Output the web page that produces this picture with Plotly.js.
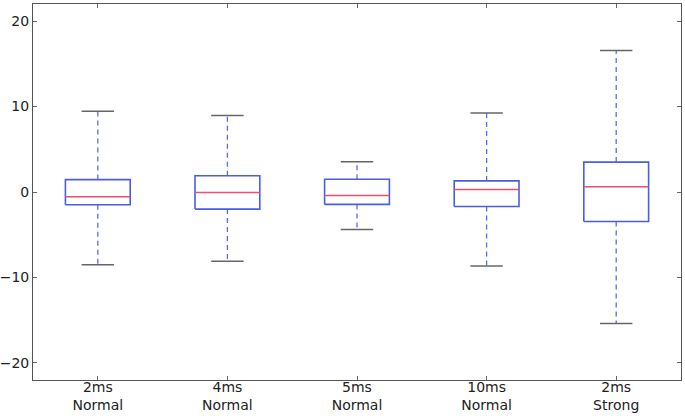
<!DOCTYPE html>
<html>
<head>
<meta charset="utf-8">
<script src="https://cdn.plot.ly/plotly-3.0.1.min.js"></script>
<style>
  html, body { margin: 0; padding: 0; background: #fff; }
  #chart { width: 685px; height: 416px; }
</style>
</head>
<body>
<div id="chart"></div>
<script>
document.addEventListener('DOMContentLoaded', function () {
    // box statistics
    var labels = ['2ms<br>Normal', '4ms<br>Normal', '5ms<br>Normal', '10ms<br>Normal', '2ms<br>Strong'];
    var upper  = [9.45, 8.95, 3.55, 9.25, 16.55];
    var q3     = [1.45, 1.9, 1.5, 1.3, 3.5];
    var median = [-0.55, -0.05, -0.4, 0.3, 0.6];
    var q1     = [-1.5, -2.0, -1.45, -1.7, -3.45];
    var lower  = [-8.5, -8.1, -4.4, -8.65, -15.4];
    var yTicks = [-20, -10, 0, 10, 20];

    var HALF_BOX = 0.25;
    var HALF_CAP = 0.125;

    var wx = [], wy = [], bx = [], by = [], mx = [], my = [], cx = [], cy = [];
    var pos = [];
    for (var i = 0; i < labels.length; i++) {
        var x = i + 1;
        pos.push(x);
        wx.push(x, x, null, x, x, null);
        wy.push(q3[i], upper[i], null, q1[i], lower[i], null);
        bx.push(x - HALF_BOX, x + HALF_BOX, x + HALF_BOX, x - HALF_BOX, x - HALF_BOX, null);
        by.push(q1[i], q1[i], q3[i], q3[i], q1[i], null);
        mx.push(x - HALF_BOX, x + HALF_BOX, null);
        my.push(median[i], median[i], null);
        cx.push(x - HALF_CAP, x + HALF_CAP, null, x - HALF_CAP, x + HALF_CAP, null);
        cy.push(upper[i], upper[i], null, lower[i], lower[i], null);
    }

    var whiskers = {
        x: wx, y: wy, mode: 'lines', hoverinfo: 'skip',
        line: { color: '#5a6cf2', width: 1.3, dash: '5px,4px' }
    };
    var boxes = {
        x: bx, y: by, mode: 'lines', hoverinfo: 'skip',
        line: { color: '#4a5de8', width: 1.6 }
    };
    var medians = {
        x: mx, y: my, mode: 'lines', hoverinfo: 'skip',
        line: { color: '#e8506c', width: 1.5 }
    };
    var caps = {
        x: cx, y: cy, mode: 'lines', hoverinfo: 'skip',
        line: { color: '#666', width: 1.5 }
    };

    var layout = {
        width: 685,
        height: 416,
        showlegend: false,
        margin: { l: 33, r: 4, t: 4, b: 36 },
        font: { family: 'DejaVu Sans, sans-serif', size: 14, color: '#222' },
        xaxis: {
            range: [0.5, 5.5],
            tickvals: pos,
            ticktext: labels,
            ticklabelstandoff: -6,
            ticks: 'inside', ticklen: 4, tickcolor: '#666',
            showline: true, linecolor: '#555', linewidth: 1, mirror: 'ticks',
            showgrid: false, zeroline: false
        },
        yaxis: {
            range: [-22, 22],
            tickvals: yTicks,
            ticks: 'inside', ticklen: 4, tickcolor: '#666',
            showline: true, linecolor: '#555', linewidth: 1, mirror: 'ticks',
            showgrid: false, zeroline: false
        },
        plot_bgcolor: '#fff',
        paper_bgcolor: '#fff'
    };

    Plotly.newPlot('chart', [whiskers, boxes, medians, caps], layout, { displayModeBar: false, staticPlot: true });
});
</script>
</body>
</html>
